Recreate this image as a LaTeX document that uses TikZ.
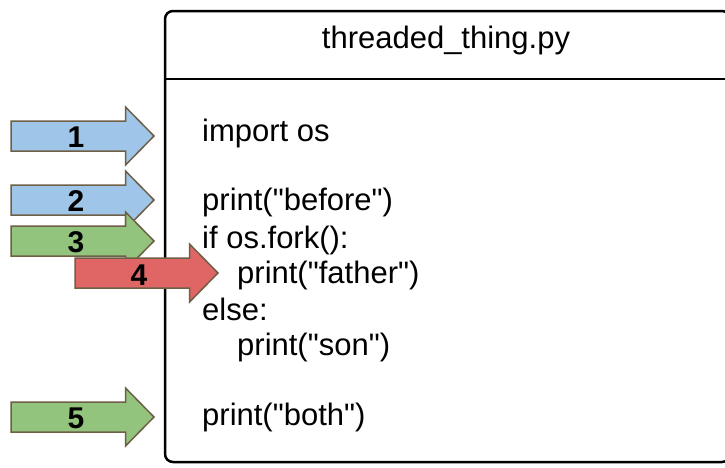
\documentclass[tikz,border=0pt]{standalone}
\usepackage{fontspec}
\setmainfont{Liberation Sans}[Ligatures=TeXOff]
\definecolor{ablue}{HTML}{9FC5E8}
\definecolor{agreen}{HTML}{93C47D}
\definecolor{ared}{HTML}{E06666}
\definecolor{aedge}{HTML}{6E5F46}
\newcommand\blockarrow[4]{% #1 colour, #2 left x, #3 body end x, #4 centre y
  \filldraw[fill=#1, draw=aedge, line width=1.5pt, line join=miter]
    (#2,#4-15) -- (#3,#4-15) -- (#3,#4-29) -- (#3+28.5,#4) --
    (#3,#4+29) -- (#3,#4+15) -- (#2,#4+15) -- cycle;}
\begin{document}
\begin{tikzpicture}[x=1pt,y=-1pt,
  codeline/.style={anchor=base west, inner sep=0pt, font=\fontsize{31}{36}\selectfont},
  titletext/.style={anchor=base, inner sep=0pt, font=\fontsize{31}{36}\selectfont},
  digit/.style={inner sep=0pt, font=\fontsize{30}{32}\selectfont\bfseries}]
\useasboundingbox (0,0) rectangle (725,467);
\clip (0,0) rectangle (725,467);
\fill[white] (0,0) rectangle (725,467);
% file box
\draw[line width=2.5pt, rounded corners=8pt] (165,11) rectangle (730,462);
\coordinate (divl) at (165,79);
\coordinate (divr) at (730,79);
\draw[line width=2.5pt] (divl) -- (divr);
\node[titletext] (title) at (446,48) {threaded\_thing.py};
% code
\node[codeline] (l1) at (202,141) {import os};
\node[codeline] (l2) at (202,210) {print("before")};
\node[codeline] (l3) at (202,248) {if os.fork():};
\node[codeline] (l4) at (237,283) {print("father")};
\node[codeline] (l5) at (202,320) {else:};
\node[codeline] (l6) at (237,355) {print("son")};
\node[codeline] (l7) at (202,425) {print("both")};
% arrows
\blockarrow{ablue}{11}{125.5}{136}
\node[digit] (n1) at (76,137) {1};
\blockarrow{ablue}{11}{125.5}{200}
\node[digit] (n2) at (76,201) {2};
\blockarrow{agreen}{11}{125.5}{241}
\node[digit] (n3) at (76,242) {3};
\blockarrow{ared}{75}{189.5}{273}
\node[digit] (n4) at (139,275) {4};
\blockarrow{agreen}{11}{125.5}{417}
\node[digit] (n5) at (76,418) {5};
\end{tikzpicture}
\end{document}
